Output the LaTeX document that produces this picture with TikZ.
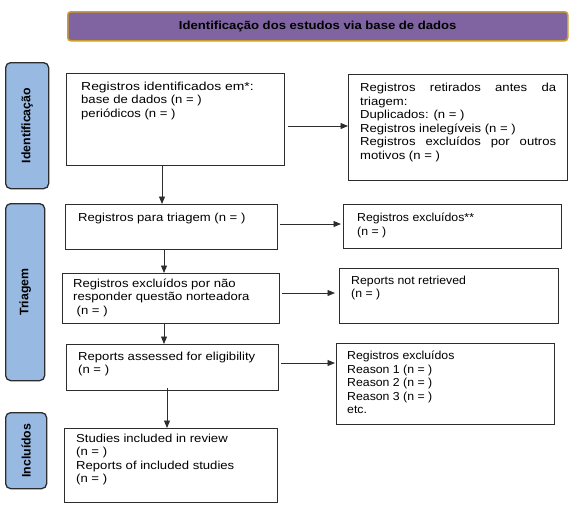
\documentclass[tikz,border=0pt]{standalone}
\usepackage{fontspec}
\setmainfont{Liberation Sans}[FakeStretch=1.13]
\newfontfamily\sidefont{Liberation Sans}
\newfontfamily\rightfont{Liberation Sans}[FakeStretch=1.06]
\newfontfamily\widefont{Liberation Sans}[FakeStretch=1.2]
\usetikzlibrary{arrows.meta}
\definecolor{hdrfill}{RGB}{128,100,162}
\definecolor{hdrline}{RGB}{204,160,40}
\definecolor{sidefill}{RGB}{152,185,226}
\definecolor{boxline}{RGB}{45,45,45}
\newcommand\firststrut{\rule{0pt}{11pt}}
\begin{document}
\begin{tikzpicture}[x=1pt,y=-1pt,
  box/.style={draw=boxline,line width=1.3pt,inner sep=0pt,anchor=north west},
  txt/.style={anchor=north west,inner sep=0pt,align=left,font=\fontsize{11.6}{13.5}\selectfont},
  rtxt/.style={txt,font=\rightfont\fontsize{11.6}{13.5}\selectfont},
  side/.style={draw=boxline,line width=1.3pt,fill=sidefill,rounded corners=5pt,inner sep=0pt,anchor=north west},
  sidetxt/.style={rotate=90,inner sep=0pt,font=\sidefont\bfseries\fontsize{12.3}{14}\selectfont},
  arr/.style={draw=boxline,line width=0.9pt,-{Triangle[length=7.5pt,width=6pt]}}]
\useasboundingbox (0,0) rectangle (577,507);

% header
\node[draw=hdrline,line width=1.5pt,fill=hdrfill,rounded corners=3pt,anchor=north west,
      minimum width=500pt,minimum height=29pt,inner sep=0pt,
      font=\bfseries\fontsize{11.6}{13.5}\selectfont] (hdr) at (67,11)
      {Identificação dos estudos via base de dados};

% side bars
\node[side,minimum width=43pt,minimum height=126pt] (s1) at (5,62) {};
\node[sidetxt] at (s1.center) {Identificação};
\node[side,minimum width=39pt,minimum height=177pt] (s2) at (5,203) {};
\node[sidetxt] at (s2.center) {Triagem};
\node[side,minimum width=41pt,minimum height=76pt] (s3) at (5,412) {};
\node[sidetxt] at (s3.center) {Incluídos};

% boxes
\node[box,minimum width=218pt,minimum height=92pt] (b1) at (66,73) {};
\node[box,minimum width=219pt,minimum height=106pt] (b2) at (348,74) {};
\node[box,minimum width=212pt,minimum height=45pt] (b3) at (65,204) {};
\node[box,minimum width=218pt,minimum height=44pt] (b4) at (343,204) {};
\node[box,minimum width=217pt,minimum height=50pt] (b5) at (62,273) {};
\node[box,minimum width=219pt,minimum height=55pt] (b6) at (339,268) {};
\node[box,minimum width=212pt,minimum height=46pt] (b7) at (66,344) {};
\node[box,minimum width=218pt,minimum height=81pt] (b8) at (336,343) {};
\node[box,minimum width=213pt,minimum height=74pt] (b9) at (64,428) {};

% texts
\node[txt] (t1) at (81,79) {\firststrut{\widefont Registros identificados em*:}\\base de dados (n = )\\periódicos (n = )};
\node[txt,text width=196pt,align=justify] (t2) at (360,80.5) {\firststrut Registros retirados antes da\linebreak triagem:\\Duplicados: (n = )\\Registros inelegíveis (n = )\\Registros excluídos por outros\linebreak motivos (n = )};
\node[txt] (t3) at (78,210) {\firststrut Registros para triagem (n = )};
\node[rtxt] (t4) at (357,210.5) {\firststrut Registros excluídos**\\(n = )};
\node[txt] (t5) at (73,276) {\firststrut Registros excluídos por não\\responder questão norteadora\\\hspace{3.5pt}(n = )};
\node[rtxt] (t6) at (351,273) {\firststrut Reports not retrieved\\(n = )};
\node[txt] (t7) at (78,349) {\firststrut Reports assessed for eligibility\\(n = )};
\node[rtxt] (t8) at (347,348.5) {\firststrut Registros excluídos\\Reason 1 (n = )\\Reason 2 (n = )\\Reason 3 (n = )\\etc.};
\node[txt] (t9) at (76,431) {\firststrut Studies included in review\\(n = )\\Reports of included studies\\(n = )};

% horizontal arrows
\draw[arr] ([xshift=3pt]b1.east |- 0,126) -- (b2.west |- 0,126);
\draw[arr] ([xshift=2pt]b3.east |- 0,224) -- ([xshift=-2pt]b4.west |- 0,224);
\draw[arr] ([xshift=2pt]b5.east |- 0,293) -- ([xshift=-4pt]b6.west |- 0,293);
\draw[arr] ([xshift=2pt]b7.east |- 0,363) -- ([xshift=-1pt]b8.west |- 0,363);

% vertical arrows
\draw[arr] (b1.south -| 162,0) -- (b3.north -| 162,0);
\draw[arr] (b3.south -| 164,0) -- (b5.north -| 164,0);
\draw[arr] (b5.south -| 164,0) -- (b7.north -| 164,0);
\draw[arr] ([yshift=3pt]b7.south -| 167,0) -- (b9.north -| 167,0);
\end{tikzpicture}
\end{document}
